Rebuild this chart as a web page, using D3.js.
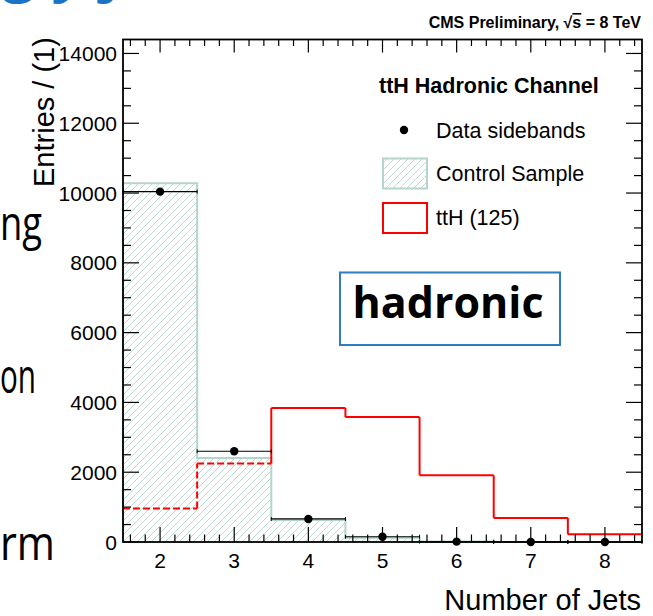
<!DOCTYPE html>
<html>
<head>
<meta charset="utf-8">
<script src="https://cdn.jsdelivr.net/npm/d3@7"></script>
<style>
  body { margin: 0; background: #fff; }
  svg { display: block; }
</style>
</head>
<body>
<div id="canvas"></div>
<script>
var w = 653;
var h = 616;

// bin centres = number of jets
const jetBins = [2, 3, 4, 5, 6, 7, 8];
// hatched control sample
const controlSample = [10280, 2410, 630, 120, 12, 3, 1];
// black points
const dataSidebands = [10040, 2600, 660, 150, 10, 2, 0];
// red line
const ttH125 = [960, 2250, 3840, 3580, 1910, 690, 220];
const yTicks = [0, 2000, 4000, 6000, 8000, 10000, 12000, 14000];
const xTicks = [2, 3, 4, 5, 6, 7, 8];

const pLeft = 123, pRight = 642, pTop = 39.5, pBottom = 542;

const svg = d3.select("#canvas")
    .append("svg")
    .attr("width", w)
    .attr("height", h)
    .attr("id", "svg");

const x = d3.scaleLinear().domain([1.5, 8.5]).range([pLeft, pRight]);
const y = d3.scaleLinear().domain([0, 14400]).range([pBottom, pTop]);

//SLIDE LEFTOVERS BEHIND THE PLOT
svg.append("text")
    .attr("x", 2).attr("y", -11)
    .style("font-family", "Open Sans, sans-serif")
    .style("font-size", "60px")
    .style("font-weight", "bold")
    .style("fill", "#1a73c4")
    .text("g     y   j");

// word, x, baseline, squeezed width
const slideWords = [["ng", 0, 240, 42], ["on", 0, 393, 36], ["rm", 0, 560, 55]];
svg.selectAll("text.slide")
    .data(slideWords)
    .enter().append("text")
    .attr("class", "slide")
    .attr("x", d => d[1])
    .attr("y", d => d[2])
    .attr("textLength", d => d[3])
    .attr("lengthAdjust", "spacingAndGlyphs")
    .style("font-family", "Open Sans, sans-serif")
    .style("font-size", "48px")
    .style("fill", "#000")
    .text(d => d[0]);

//HATCH PATTERNS
const defs = svg.append("defs");
const pat = defs.append("pattern")
    .attr("id", "hatch")
    .attr("patternUnits", "userSpaceOnUse")
    .attr("width", 7)
    .attr("height", 7);
pat.append("path")
    .attr("d", "M0,7 L7,0 M-1,1 L1,-1 M6,8 L8,6")
    .attr("stroke", "#b4d6cc")
    .attr("stroke-width", 0.9);

//THE WHITE PLOT AREA
svg.append("rect")
    .attr("x", pLeft).attr("y", pTop)
    .attr("width", pRight - pLeft).attr("height", pBottom - pTop)
    .style("fill", "#fff");

//STEP PATH FOR A HISTOGRAM
function stepPath(vals) {
    let p = "M" + x(jetBins[0] - 0.5) + "," + y(0);
    vals.forEach(function(v, i) {
        p += "L" + x(jetBins[i] - 0.5) + "," + y(v);
        p += "L" + x(jetBins[i] + 0.5) + "," + y(v);
    });
    p += "L" + x(jetBins[jetBins.length - 1] + 0.5) + "," + y(0);
    return p;
}

const plot = svg.append("g");

//CONTROL SAMPLE
plot.append("path")
    .attr("d", stepPath(controlSample) + "Z")
    .style("fill", "url(#hatch)")
    .style("stroke", "none");
plot.append("path")
    .attr("d", stepPath(controlSample))
    .style("fill", "none")
    .style("stroke", "#b3d5cb")
    .style("stroke-width", 2);

//TTH LINE, DASHED WHERE IT RUNS INSIDE THE HATCH
ttH125.forEach(function(v, i) {
    plot.append("line")
        .attr("x1", x(jetBins[i] - 0.5)).attr("x2", x(jetBins[i] + 0.5))
        .attr("y1", y(v)).attr("y2", y(v))
        .attr("stroke", "#ff0000")
        .attr("stroke-width", 2)
        .attr("stroke-dasharray", v < controlSample[i] ? "7,3" : null);
    if (i < ttH125.length - 1) {
        let v2 = ttH125[i + 1];
        let inside = Math.max(v, v2) < Math.max(controlSample[i], controlSample[i + 1]);
        plot.append("line")
            .attr("x1", x(jetBins[i] + 0.5)).attr("x2", x(jetBins[i] + 0.5))
            .attr("y1", y(v)).attr("y2", y(v2))
            .attr("stroke", "#ff0000")
            .attr("stroke-width", 2)
            .attr("stroke-dasharray", inside ? "7,3" : null);
    }
});

//DATA POINTS WITH ERRORS
const pts = plot.selectAll("g.pt")
    .data(jetBins.map((b, i) => [b, dataSidebands[i]]))
    .enter().append("g").attr("class", "pt");
pts.append("line")
    .attr("x1", d => x(d[0] - 0.5)).attr("x2", d => x(d[0] + 0.5))
    .attr("y1", d => y(d[1])).attr("y2", d => y(d[1]))
    .attr("stroke", "#000").attr("stroke-width", 1.2);
pts.append("line")
    .attr("x1", d => x(d[0] - 0.5)).attr("x2", d => x(d[0] - 0.5))
    .attr("y1", d => y(d[1]) - 2).attr("y2", d => y(d[1]) + 2)
    .attr("stroke", "#000").attr("stroke-width", 1);
pts.append("line")
    .attr("x1", d => x(d[0] + 0.5)).attr("x2", d => x(d[0] + 0.5))
    .attr("y1", d => y(d[1]) - 2).attr("y2", d => y(d[1]) + 2)
    .attr("stroke", "#000").attr("stroke-width", 1);
pts.append("line")
    .attr("x1", d => x(d[0])).attr("x2", d => x(d[0]))
    .attr("y1", d => y(d[1] + Math.sqrt(d[1]))).attr("y2", d => y(Math.max(0, d[1] - Math.sqrt(d[1]))))
    .attr("stroke", "#000").attr("stroke-width", 1.2);
pts.append("circle")
    .attr("cx", d => x(d[0])).attr("cy", d => y(d[1]))
    .attr("r", 4.2)
    .style("fill", "#000");

//FRAME AND TICKS
const ax = svg.append("g");
const xMinor = d3.range(16, 85, 2).map(v => v / 10).filter(v => v % 1 !== 0);
const yMinor = d3.range(500, 14400, 500).filter(v => v % 2000 !== 0);

function tick(g, x1, y1, x2, y2) {
    g.append("line")
        .attr("x1", x1).attr("y1", y1).attr("x2", x2).attr("y2", y2)
        .attr("stroke", "#000").attr("stroke-width", 1.2);
}
xTicks.forEach(function(t) {
    tick(ax, x(t), pBottom, x(t), pBottom - 15);
    tick(ax, x(t), pTop, x(t), pTop + 13);
});
xMinor.forEach(function(t) {
    tick(ax, x(t), pBottom, x(t), pBottom - 7.5);
    tick(ax, x(t), pTop, x(t), pTop + 6.5);
});
yTicks.forEach(function(t) {
    tick(ax, pLeft, y(t), pLeft + 16, y(t));
    tick(ax, pRight, y(t), pRight - 16, y(t));
});
yMinor.forEach(function(t) {
    tick(ax, pLeft, y(t), pLeft + 8, y(t));
    tick(ax, pRight, y(t), pRight - 8, y(t));
});

ax.append("rect")
    .attr("x", pLeft).attr("y", pTop)
    .attr("width", pRight - pLeft).attr("height", pBottom - pTop)
    .style("fill", "none")
    .style("stroke", "#000")
    .style("stroke-width", 1.8);

//TICK LABELS
ax.selectAll("text.yl")
    .data(yTicks)
    .enter().append("text")
    .attr("class", "yl")
    .attr("x", 117)
    .attr("y", d => y(d) + 7.5)
    .attr("text-anchor", "end")
    .style("font-family", "Liberation Sans, Arial, sans-serif")
    .style("font-size", "21px")
    .text(d => d);

ax.selectAll("text.xl")
    .data(xTicks)
    .enter().append("text")
    .attr("class", "xl")
    .attr("x", d => x(d))
    .attr("y", 568)
    .attr("text-anchor", "middle")
    .style("font-family", "Liberation Sans, Arial, sans-serif")
    .style("font-size", "21px")
    .text(d => d);

//AXIS TITLES
svg.append("text")
    .attr("x", 641)
    .attr("y", 610)
    .attr("text-anchor", "end")
    .style("font-family", "Liberation Sans, Arial, sans-serif")
    .style("font-size", "29px")
    .text("Number of Jets");

svg.append("text")
    .attr("transform", "translate(54,187) rotate(-90)")
    .attr("text-anchor", "start")
    .style("font-family", "Liberation Sans, Arial, sans-serif")
    .style("font-size", "29px")
    .text("Entries / (1)");

//TITLE
const title = svg.append("text")
    .attr("x", 641)
    .attr("y", 28)
    .attr("text-anchor", "end")
    .style("font-family", "Liberation Sans, Arial, sans-serif")
    .style("font-size", "16px")
    .style("font-weight", "bold");
title.append("tspan").text("CMS Preliminary,  \u221A");
title.append("tspan").style("text-decoration", "overline").text("s");
title.append("tspan").text(" = 8 TeV");

//LEGEND
const leg = svg.append("g")
    .style("font-family", "Liberation Sans, Arial, sans-serif");
leg.append("text")
    .attr("x", 379).attr("y", 93)
    .style("font-size", "21.5px")
    .style("font-weight", "bold")
    .text("ttH Hadronic Channel");
leg.append("circle")
    .attr("cx", 404).attr("cy", 130).attr("r", 4.2)
    .style("fill", "#000");
leg.append("text")
    .attr("x", 436).attr("y", 137.5)
    .style("font-size", "21.5px")
    .text("Data sidebands");
leg.append("rect")
    .attr("x", 383).attr("y", 158.5).attr("width", 44).attr("height", 30)
    .style("fill", "url(#hatch)")
    .style("stroke", "#b3d5cb")
    .style("stroke-width", 2);
leg.append("text")
    .attr("x", 436).attr("y", 181)
    .style("font-size", "21.5px")
    .text("Control Sample");
leg.append("rect")
    .attr("x", 383).attr("y", 203).attr("width", 44).attr("height", 30)
    .style("fill", "#fff")
    .style("stroke", "#ff0000")
    .style("stroke-width", 2);
leg.append("text")
    .attr("x", 436).attr("y", 225)
    .style("font-size", "21.5px")
    .text("ttH (125)");

//HADRONIC LABEL BOX
svg.append("rect")
    .attr("x", 340).attr("y", 272.5).attr("width", 220).attr("height", 72.5)
    .style("fill", "#fff")
    .style("stroke", "#2f7dc0")
    .style("stroke-width", 2);
svg.append("text")
    .attr("x", 448).attr("y", 318)
    .attr("text-anchor", "middle")
    .attr("textLength", 191)
    .attr("lengthAdjust", "spacingAndGlyphs")
    .style("font-family", "Open Sans, sans-serif")
    .style("font-size", "43px")
    .style("font-weight", "bold")
    .text("hadronic");
</script>
</body>
</html>
